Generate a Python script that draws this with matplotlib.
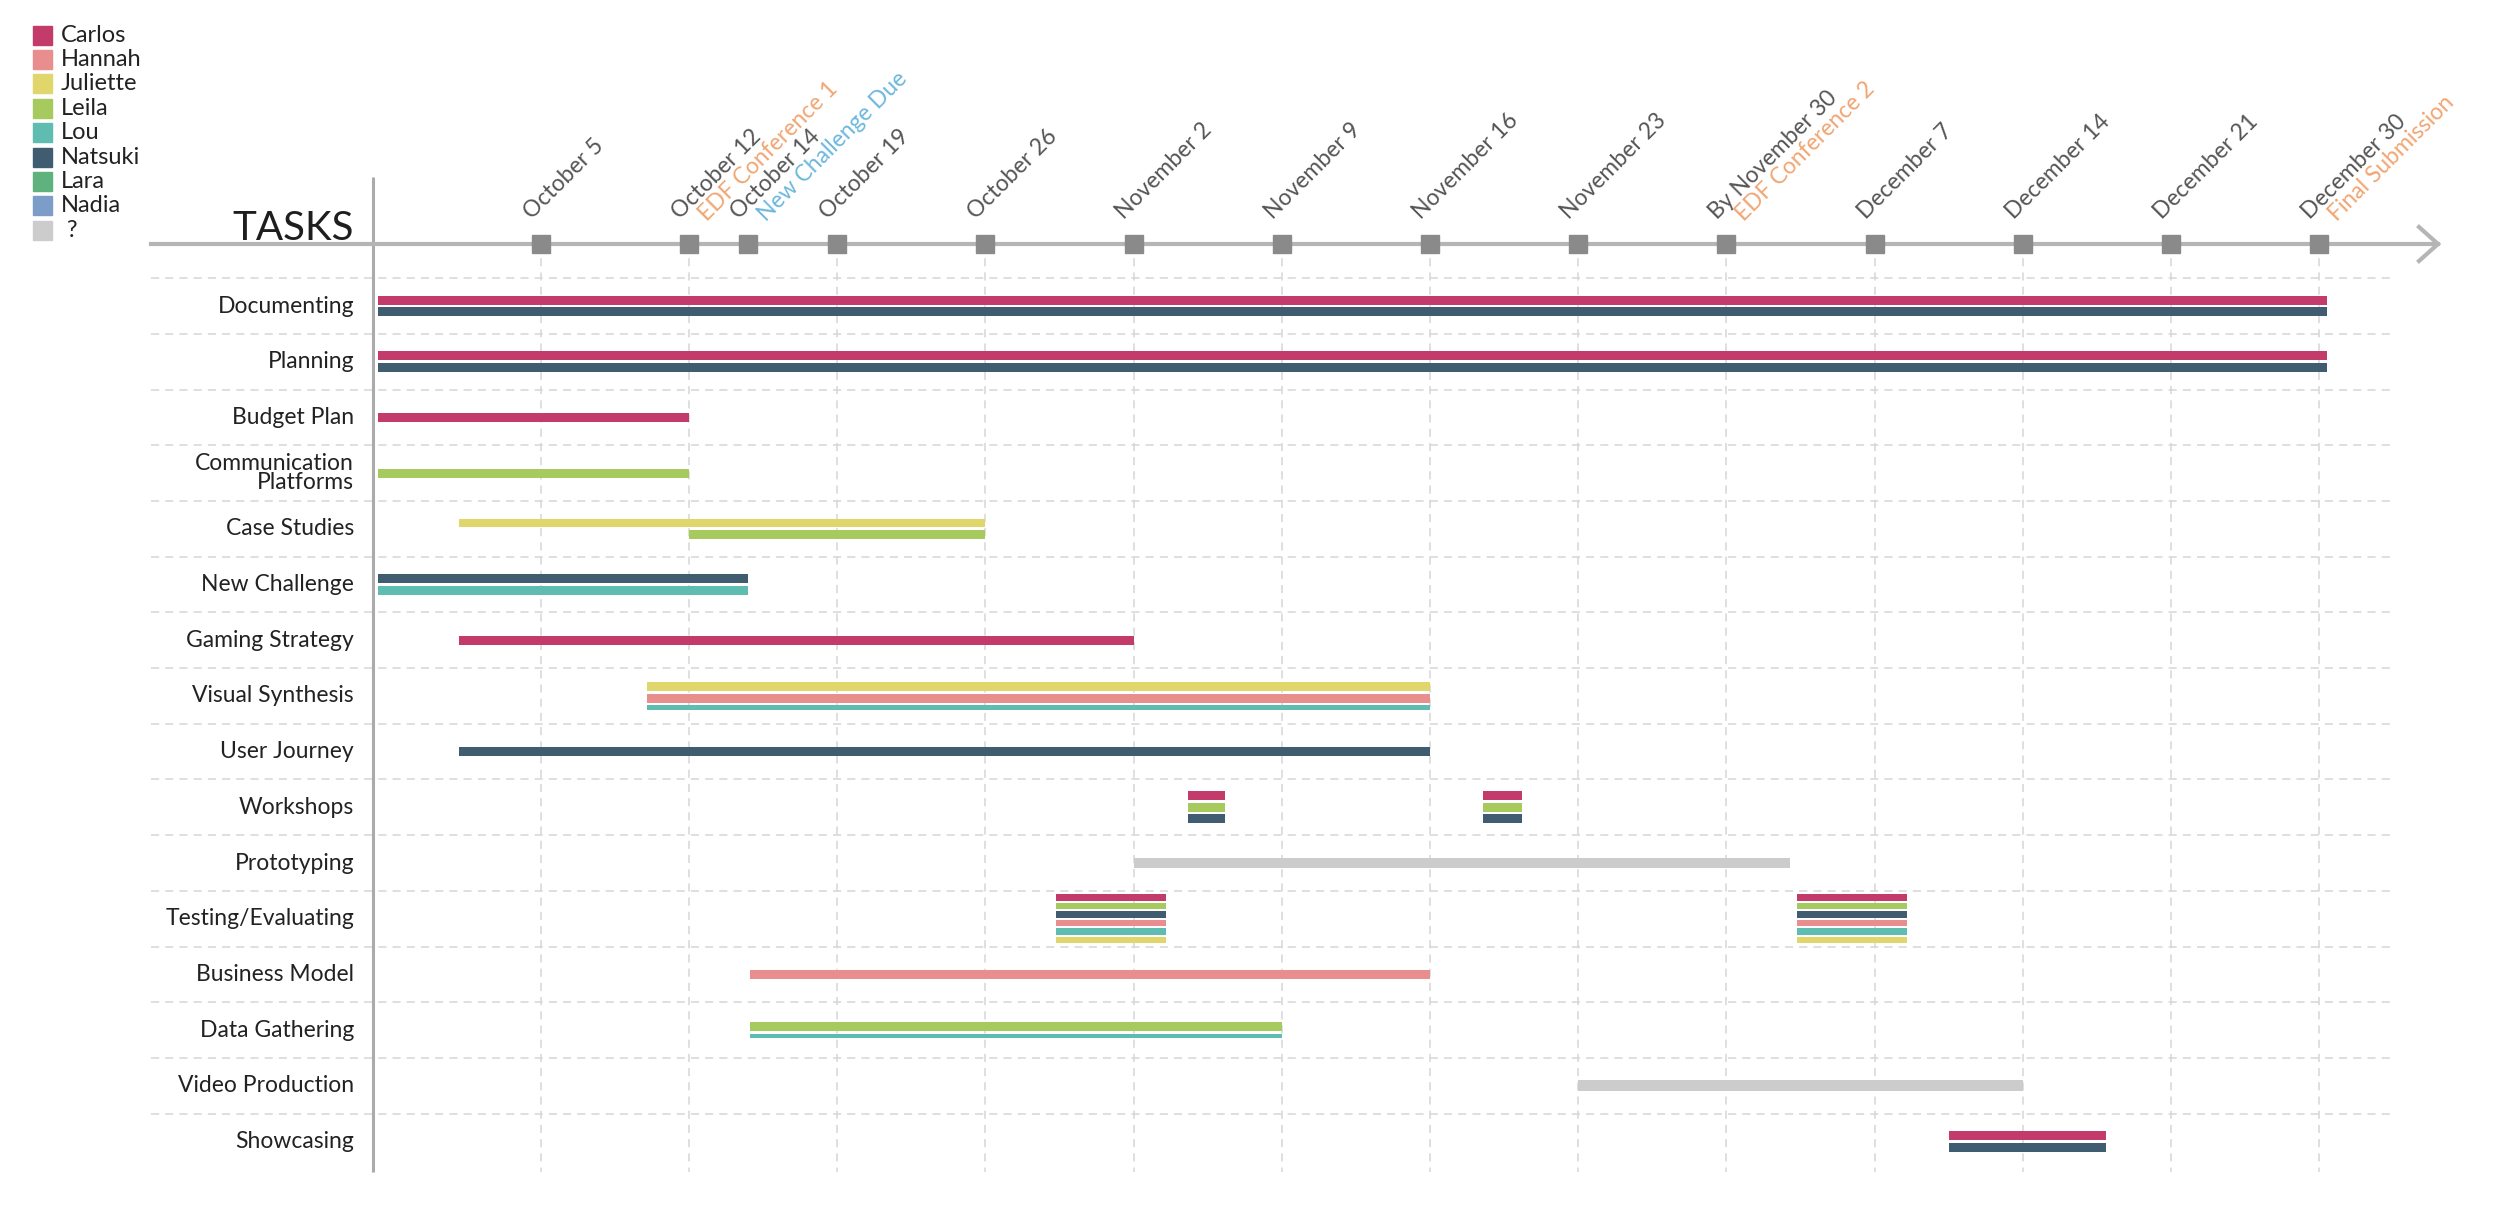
import matplotlib
matplotlib.use("Agg")
import matplotlib.pyplot as plt
from matplotlib.patches import Rectangle

plt.rcParams['font.family'] = ['Lato', 'DejaVu Sans']

# team members and their colours
members = ["Carlos", "Hannah", "Juliette", "Leila", "Lou", "Natsuki", "Lara", "Nadia", " ?"]
member_colors = ["#C23B6A", "#E88E8E", "#E0D66C", "#A7CA5F", "#5EBCB0",
                 "#3F5C70", "#5FB27E", "#7B9DC7", "#CCCCCC"]
color_of = dict(zip([m.strip() for m in members], member_colors))

# milestones on the timeline (position in weeks)
dates = ["October 5", "October 12", "October 14", "October 19", "October 26",
         "November 2", "November 9", "November 16", "November 23", "By November 30",
         "December 7", "December 14", "December 21", "December 30"]
date_pos = [1, 2, 2.4, 3, 4, 5, 6, 7, 8, 9, 10, 11, 12, 13]
date_grid = [True, True, False, True, True, True, True, True, True, True, True, True, True, True]
events = {"October 12": "EDF Conference 1", "October 14": "New Challenge Due",
          "By November 30": "EDF Conference 2", "December 30": "Final Submission"}
event_colors = {"October 12": "#F0A673", "October 14": "#6DB8DC",
                "By November 30": "#F0A673", "December 30": "#F0A673"}

tasks = ["Documenting", "Planning", "Budget Plan", "Communication\nPlatforms", "Case Studies",
         "New Challenge", "Gaming Strategy", "Visual Synthesis", "User Journey", "Workshops",
         "Prototyping", "Testing/Evaluating", "Business Model", "Data Gathering",
         "Video Production", "Showcasing"]

# (task index, member, [(start, end), ...], thickness weight)
assign = [
    (0, "Carlos", [(-0.1, 13.05)], 1), (0, "Natsuki", [(-0.1, 13.05)], 1),
    (1, "Carlos", [(-0.1, 13.05)], 1), (1, "Natsuki", [(-0.1, 13.05)], 1),
    (2, "Carlos", [(-0.1, 2)], 1),
    (3, "Leila", [(-0.1, 2)], 1),
    (4, "Juliette", [(0.45, 4)], 1), (4, "Leila", [(2, 4)], 1),
    (5, "Natsuki", [(-0.1, 2.4)], 1), (5, "Lou", [(-0.1, 2.4)], 1),
    (6, "Carlos", [(0.45, 5)], 1),
    (7, "Juliette", [(1.72, 7)], 1), (7, "Hannah", [(1.72, 7)], 1), (7, "Lou", [(1.72, 7)], 0.5),
    (8, "Natsuki", [(0.45, 7)], 1),
    (9, "Carlos", [(5.37, 5.62), (7.36, 7.62)], 1), (9, "Leila", [(5.37, 5.62), (7.36, 7.62)], 1),
    (9, "Natsuki", [(5.37, 5.62), (7.36, 7.62)], 1),
    (10, "?", [(5, 9.43)], 1.2),
    (11, "Carlos", [(4.48, 5.22), (9.48, 10.22)], 1), (11, "Leila", [(4.48, 5.22), (9.48, 10.22)], 1),
    (11, "Natsuki", [(4.48, 5.22), (9.48, 10.22)], 1), (11, "Hannah", [(4.48, 5.22), (9.48, 10.22)], 1),
    (11, "Lou", [(4.48, 5.22), (9.48, 10.22)], 1), (11, "Juliette", [(4.48, 5.22), (9.48, 10.22)], 1),
    (12, "Hannah", [(2.41, 7)], 1),
    (13, "Leila", [(2.41, 6)], 1), (13, "Lou", [(2.41, 6)], 0.5),
    (14, "?", [(8, 11)], 1.2),
    (15, "Carlos", [(10.5, 11.56)], 1), (15, "Natsuki", [(10.5, 11.56)], 1),
]

W, H = 2500, 1211
PX_WEEK, X0 = 148.2, 392.5     # pixels per week, pixel of week 0
PX_ROW, Y0 = 55.7, 306.0       # pixels per row, pixel of first row
def wx(px): return (px - X0) / PX_WEEK
def ry(px): return (px - Y0) / PX_ROW

fig = plt.figure(figsize=(W / 100, H / 100), dpi=100)
ax = fig.add_axes([0, 0, 1, 1])
ax.set_xlim(wx(0), wx(W))
ax.set_ylim(ry(H), ry(0))
ax.axis('off')

grid_kw = dict(color="#D6D6D6", lw=1.1, dashes=(5.3, 4.0), zorder=1)
axis_y = ry(244)
n_rows = len(tasks)

# horizontal row separators
for i in range(n_rows):
    ax.plot([wx(151), wx(2390)], [i - 0.5, i - 0.5], **grid_kw)
# vertical week lines
for p, g in zip(date_pos, date_grid):
    if g:
        ax.plot([p, p], [axis_y, ry(1172)], **grid_kw)

# left spine
ax.plot([wx(373), wx(373)], [ry(177), ry(1172)], color="#ABABAB", lw=2.2, zorder=3,
        solid_capstyle='butt')

# timeline with arrow
ax.plot([wx(151), wx(2438)], [axis_y, axis_y], color="#B5B5B5", lw=3, zorder=3)
ax.plot([wx(2419), wx(2438), wx(2419)], [ry(227), axis_y, ry(261)], color="#B5B5B5",
        lw=3, zorder=3, solid_joinstyle='miter')
ax.plot(date_pos, [axis_y] * len(date_pos), ls='none', marker='s', ms=13,
        color="#8A8A8A", zorder=4)

for d, p in zip(dates, date_pos):
    ax.annotate(d, xy=(p, axis_y), xytext=(-9, 24), textcoords='offset pixels',
                rotation=45, rotation_mode='anchor', ha='left', va='baseline',
                fontsize=16.5, color="#555555")
    if d in events:
        ax.annotate(events[d], xy=(p, axis_y), xytext=(18, 22), textcoords='offset pixels',
                    rotation=45, rotation_mode='anchor', ha='left', va='baseline',
                    fontsize=16.5, color=event_colors[d])

ax.text(wx(354), ry(240), "TASKS", ha='right', va='baseline', fontsize=29,
        color="#1E1E1E")

# task labels
for i, t in enumerate(tasks):
    ax.text(wx(354), i, t, ha='right', va='center', fontsize=16.5, color="#222222",
            linespacing=0.9)

# bars, stacked inside each task row
for i in range(n_rows):
    rows = [a for a in assign if a[0] == i]
    n = len(rows)
    step = min(11.6, 51.0 / n)
    thick = 0.77 * step
    gap = step - thick
    heights = [thick * a[3] for a in rows]
    top = -(sum(heights) + gap * (n - 1)) / 2
    for a, h in zip(rows, heights):
        c = top + h / 2
        for s, e in a[2]:
            ax.barh(i + c / PX_ROW, e - s, left=s, height=h / PX_ROW,
                    color=color_of[a[1]], zorder=5)
        top += h + gap

# legend
for k, (m, c) in enumerate(zip(members, member_colors)):
    yc = 35 + 24.4 * k
    fig.patches.append(Rectangle((33 / W, 1 - (yc + 9.5) / H), 19 / W, 19 / H,
                                 transform=fig.transFigure, color=c))
    fig.text(61 / W, 1 - yc / H, m, ha='left', va='center', fontsize=17, color="#222222")

fig.savefig("out.png", dpi=100)
